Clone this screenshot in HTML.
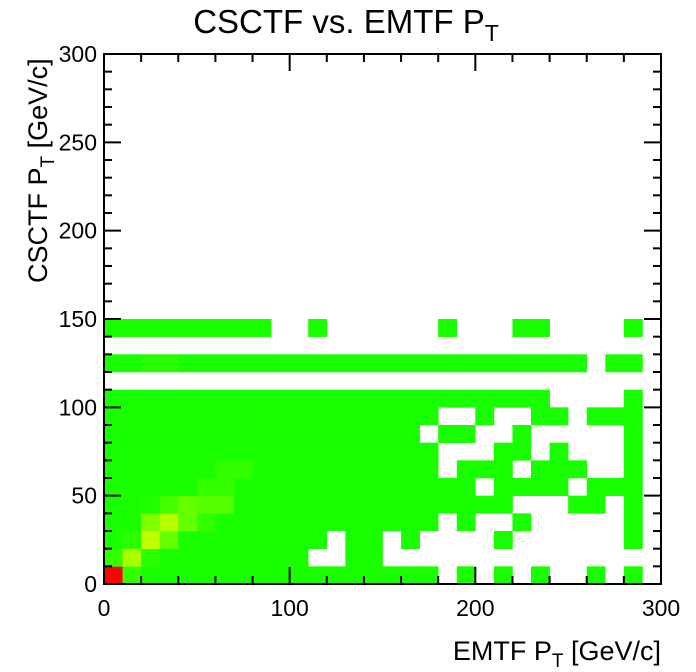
<!DOCTYPE html>
<html><head><meta charset="utf-8"><style>
html,body{margin:0;padding:0;background:#fff;}
svg{display:block;font-family:"Liberation Sans",sans-serif;}
</style></head><body>
<svg id="chart" width="696" height="672" viewBox="0 0 696 672">
<g id="cells"></g>
<g id="axes"></g>
<text x="346" y="33" font-size="33" text-anchor="middle">CSCTF vs. EMTF P<tspan font-size="23" dy="8">T</tspan></text>
<text x="661" y="660" font-size="27" text-anchor="end">EMTF P<tspan font-size="19" dy="7">T</tspan><tspan dy="-7"> [GeV/c]</tspan></text>
<text transform="translate(47,283) rotate(-90)" font-size="27" text-anchor="start">CSCTF P<tspan font-size="19" dy="7">T</tspan><tspan dy="-7"> [GeV/c]</tspan></text>
</svg>
<script>
// bin edges: 30 x 30 bins of width 10
const xMin = 0, xMax = 300, yMin = 0, yMax = 300, binW = 10;
const xTicks = [0, 100, 200, 300];
const yTicks = [0, 50, 100, 150, 200, 250, 300];
// filled runs per y-bin row: [row, startCol, endCol] (count 1 by default)
const filledRuns = [
  [0,0,17],[0,19,19],[0,21,21],[0,23,23],[0,26,26],[0,28,28],
  [1,0,10],[1,13,14],
  [2,0,11],[2,13,14],[2,16,16],[2,21,21],[2,28,28],
  [3,0,17],[3,19,19],[3,22,22],[3,28,28],
  [4,0,21],[4,25,26],[4,28,28],
  [5,0,19],[5,21,24],[5,26,28],
  [6,0,17],[6,19,21],[6,23,25],[6,28,28],
  [7,0,17],[7,21,22],[7,24,24],[7,28,28],
  [8,0,16],[8,18,19],[8,22,22],[8,28,28],
  [9,0,17],[9,20,20],[9,23,24],[9,26,28],
  [10,0,23],[10,28,28],
  [12,0,25],[12,27,28],
  [14,0,8],[14,11,11],[14,18,18],[14,22,23],[14,28,28]
];
// higher-count cells: [col, row, count]
const peakCells = [
  [0,0,1000],[1,0,53],[0,1,53],[1,1,287],[2,1,35],
  [1,2,35],[2,2,335],[3,2,155],
  [2,3,205],[3,3,311],[4,3,155],[5,3,53],
  [2,4,19],[3,4,87],[4,4,155],[5,4,121],[6,4,121],
  [5,5,53],[6,5,53],[6,6,53],[7,6,53],
  [2,12,35],[3,12,35]
];
const L=104,R=661,T=54,B=584;
const sx=v=>L+(v-xMin)/(xMax-xMin)*(R-L);
const sy=v=>B-(v-yMin)/(yMax-yMin)*(B-T);
function color(c){
  let r=Math.min(255,25+(c-1)*0.5);
  let g=255;
  if(c>461) g=Math.max(0,255-(c-461)*0.5);
  return `rgb(${Math.round(r)},${Math.round(g)},0)`;
}
const NS="http://www.w3.org/2000/svg";
const counts={};
filledRuns.forEach(([row,a,b])=>{for(let c=a;c<=b;c++)counts[c+","+row]=1;});
peakCells.forEach(([c,row,n])=>{counts[c+","+row]=n;});
const cg=document.getElementById('cells');
Object.keys(counts).forEach(k=>{
  const [c,row]=k.split(',').map(Number);
  const x0=sx(c*binW),x1=sx((c+1)*binW),y0=sy((row+1)*binW),y1=sy(row*binW);
  const el=document.createElementNS(NS,'rect');
  el.setAttribute('x',x0);el.setAttribute('y',y0);
  el.setAttribute('width',x1-x0+0.3);el.setAttribute('height',y1-y0+0.3);
  el.setAttribute('fill',color(counts[k]));
  
  
  cg.appendChild(el);
});
const ag=document.getElementById('axes');
function line(x1,y1,x2,y2,name){
  const l=document.createElementNS(NS,'line');
  l.setAttribute('x1',x1);l.setAttribute('y1',y1);l.setAttribute('x2',x2);l.setAttribute('y2',y2);
  l.setAttribute('stroke','#000');l.setAttribute('stroke-width','2');
  
  
  ag.appendChild(l);
}
const fr=document.createElementNS(NS,'rect');
fr.setAttribute('x',L);fr.setAttribute('y',T);fr.setAttribute('width',R-L);fr.setAttribute('height',B-T);
fr.setAttribute('fill','none');fr.setAttribute('stroke','#000');fr.setAttribute('stroke-width','2');


ag.appendChild(fr);
for(let v=xMin;v<=xMax;v+=20){
  const major=v%100===0,len=major?17:8,x=sx(v);
  line(x,B,x,B-len,'x-tick');line(x,T,x,T+len,'x-tick-top');
}
for(let v=yMin;v<=yMax;v+=10){
  const major=v%50===0,len=major?17:8,y=sy(v);
  line(L,y,L+len,y,'y-tick');line(R,y,R-len,y,'y-tick-right');
}
xTicks.forEach(v=>{
  const t=document.createElementNS(NS,'text');
  t.setAttribute('x',sx(v));t.setAttribute('y',B+32);t.setAttribute('font-size','23');t.setAttribute('text-anchor','middle');
  t.textContent=v;
  
  
  ag.appendChild(t);
});
yTicks.forEach(v=>{
  const t=document.createElementNS(NS,'text');
  t.setAttribute('x',97);t.setAttribute('y',sy(v)+8);t.setAttribute('font-size','23');t.setAttribute('text-anchor','end');
  t.textContent=v;
  
  
  ag.appendChild(t);
});
</script>
</body></html>
